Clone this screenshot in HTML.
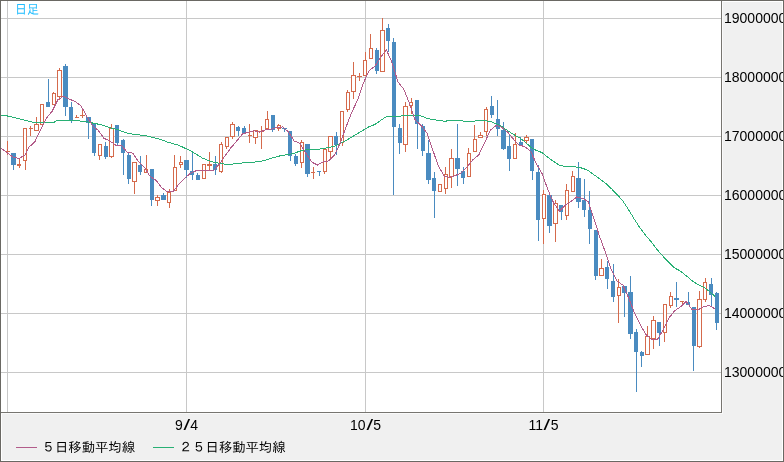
<!DOCTYPE html>
<html lang="ja"><head><meta charset="utf-8"><title>日足</title>
<style>
html,body{margin:0;padding:0;background:#f0f0f0;}
#w{position:relative;width:784px;height:462px;overflow:hidden;background:#f0f0f0;font-family:"Liberation Sans","IPAGothic","Noto Sans CJK JP",sans-serif;font-size:13.33px;color:#000;}
#bd{position:absolute;left:0;top:0;width:782px;height:460px;border:1px solid #6a6863;}
#bd2{position:absolute;left:1px;top:1px;width:780px;height:458px;border:1px solid #fff;}
#plot{position:absolute;left:1px;top:1px;width:720px;height:411px;background:#fff;border-right:1px solid #777570;border-bottom:1px solid #777570;}
#hl{position:absolute;left:1px;top:1px;width:721px;height:412px;border-right:1px solid #fafafa;border-bottom:1px solid #fafafa;}
svg{position:absolute;left:0;top:0;}
.yl{font-size:14px;position:absolute;left:724px;width:59px;overflow:hidden;white-space:nowrap;height:16px;line-height:16px;}
.xl{font-size:14px;position:absolute;top:417px;width:60px;text-align:center;height:16px;line-height:16px;}
.sl{display:inline-block;width:7.6px;text-align:center;transform:scaleX(1.7);}
.lg{position:absolute;top:440px;height:16px;line-height:16px;white-space:nowrap;font-family:"Liberation Sans","IPAGothic","Noto Sans CJK JP",sans-serif;}
.ll{position:absolute;top:447px;height:1px;width:21px;}
#ttl{position:absolute;left:15px;top:2px;height:16px;line-height:16px;color:#1fbcff;font-family:"Liberation Sans","IPAGothic","Noto Sans CJK JP",sans-serif;font-size:13.33px;white-space:nowrap;transform:scaleX(0.9);transform-origin:0 0;}
</style></head><body>
<div id="w">
<div id="bd2"></div>
<div id="hl"></div>
<div id="plot"></div>
<svg width="784" height="462" viewBox="0 0 784 462">
<defs><clipPath id="cp"><rect x="1" y="1" width="720" height="411"/></clipPath></defs>
<g clip-path="url(#cp)">
<rect x="1" y="18" width="720" height="1" fill="#c8c8c8"/>
<rect x="1" y="77" width="720" height="1" fill="#c8c8c8"/>
<rect x="1" y="136" width="720" height="1" fill="#c8c8c8"/>
<rect x="1" y="195" width="720" height="1" fill="#c8c8c8"/>
<rect x="1" y="254" width="720" height="1" fill="#c8c8c8"/>
<rect x="1" y="313" width="720" height="1" fill="#c8c8c8"/>
<rect x="1" y="372" width="720" height="1" fill="#c8c8c8"/>
<rect x="7" y="1" width="1" height="411" fill="#c8c8c8"/>
<rect x="186" y="1" width="1" height="411" fill="#c8c8c8"/>
<rect x="365" y="1" width="1" height="411" fill="#c8c8c8"/>
<rect x="543" y="1" width="1" height="411" fill="#c8c8c8"/>
<rect x="7" y="141" width="1" height="14" fill="#d56a4c"/>
<rect x="6" y="151" width="4" height="1" fill="#d56a4c"/>
<rect x="13" y="153" width="1" height="17" fill="#4a8bc0"/>
<rect x="11" y="153" width="5" height="12" fill="#4a8bc0"/>
<rect x="19" y="158" width="1" height="6" fill="#d56a4c"/>
<rect x="19" y="166" width="1" height="2" fill="#d56a4c"/>
<rect x="17.5" y="164.5" width="3" height="1" fill="#fff" stroke="#d56a4c" stroke-width="1"/>
<rect x="25" y="161" width="1" height="9" fill="#d56a4c"/>
<rect x="23.5" y="128.5" width="3" height="32" fill="#fff" stroke="#d56a4c" stroke-width="1"/>
<rect x="30" y="126" width="1" height="10" fill="#d56a4c"/>
<rect x="29" y="128" width="4" height="1" fill="#d56a4c"/>
<rect x="36" y="117" width="1" height="7" fill="#d56a4c"/>
<rect x="34.5" y="124.5" width="4" height="6" fill="#fff" stroke="#d56a4c" stroke-width="1"/>
<rect x="40.5" y="104.5" width="3" height="20" fill="#fff" stroke="#d56a4c" stroke-width="1"/>
<rect x="48" y="79" width="1" height="28" fill="#4a8bc0"/>
<rect x="46" y="102" width="4" height="5" fill="#4a8bc0"/>
<rect x="53" y="92" width="1" height="1" fill="#d56a4c"/>
<rect x="52.5" y="93.5" width="3" height="11" fill="#fff" stroke="#d56a4c" stroke-width="1"/>
<rect x="59" y="68" width="1" height="2" fill="#d56a4c"/>
<rect x="59" y="97" width="1" height="3" fill="#d56a4c"/>
<rect x="57.5" y="70.5" width="4" height="26" fill="#fff" stroke="#d56a4c" stroke-width="1"/>
<rect x="65" y="64" width="1" height="52" fill="#4a8bc0"/>
<rect x="63" y="66" width="5" height="41" fill="#4a8bc0"/>
<rect x="71" y="102" width="1" height="21" fill="#4a8bc0"/>
<rect x="69" y="107" width="4" height="13" fill="#4a8bc0"/>
<rect x="76" y="115" width="1" height="3" fill="#d56a4c"/>
<rect x="75" y="117" width="4" height="1" fill="#d56a4c"/>
<rect x="82" y="109" width="1" height="9" fill="#d56a4c"/>
<rect x="80" y="115" width="5" height="1" fill="#d56a4c"/>
<rect x="88" y="117" width="1" height="22" fill="#4a8bc0"/>
<rect x="86" y="117" width="5" height="6" fill="#4a8bc0"/>
<rect x="94" y="123" width="1" height="33" fill="#4a8bc0"/>
<rect x="92" y="123" width="4" height="30" fill="#4a8bc0"/>
<rect x="99" y="156" width="1" height="4" fill="#d56a4c"/>
<rect x="98.5" y="144.5" width="3" height="11" fill="#fff" stroke="#d56a4c" stroke-width="1"/>
<rect x="105" y="142" width="1" height="17" fill="#4a8bc0"/>
<rect x="104" y="146" width="4" height="11" fill="#4a8bc0"/>
<rect x="111" y="124" width="1" height="4" fill="#d56a4c"/>
<rect x="111" y="157" width="1" height="1" fill="#d56a4c"/>
<rect x="109.5" y="128.5" width="4" height="28" fill="#fff" stroke="#d56a4c" stroke-width="1"/>
<rect x="117" y="125" width="1" height="20" fill="#4a8bc0"/>
<rect x="115" y="125" width="4" height="18" fill="#4a8bc0"/>
<rect x="123" y="139" width="1" height="36" fill="#4a8bc0"/>
<rect x="121" y="140" width="4" height="13" fill="#4a8bc0"/>
<rect x="128" y="153" width="1" height="31" fill="#4a8bc0"/>
<rect x="127" y="155" width="4" height="24" fill="#4a8bc0"/>
<rect x="134" y="182" width="1" height="12" fill="#d56a4c"/>
<rect x="132.5" y="162.5" width="4" height="19" fill="#fff" stroke="#d56a4c" stroke-width="1"/>
<rect x="140" y="156" width="1" height="19" fill="#4a8bc0"/>
<rect x="138" y="165" width="4" height="7" fill="#4a8bc0"/>
<rect x="146" y="155" width="1" height="14" fill="#d56a4c"/>
<rect x="144.5" y="169.5" width="3" height="3" fill="#fff" stroke="#d56a4c" stroke-width="1"/>
<rect x="151" y="169" width="1" height="37" fill="#4a8bc0"/>
<rect x="150" y="169" width="4" height="31" fill="#4a8bc0"/>
<rect x="157" y="195" width="1" height="2" fill="#d56a4c"/>
<rect x="157" y="201" width="1" height="5" fill="#d56a4c"/>
<rect x="155.5" y="197.5" width="4" height="3" fill="#fff" stroke="#d56a4c" stroke-width="1"/>
<rect x="163" y="193" width="1" height="7" fill="#4a8bc0"/>
<rect x="161" y="195" width="5" height="5" fill="#4a8bc0"/>
<rect x="169" y="189" width="1" height="3" fill="#d56a4c"/>
<rect x="169" y="203" width="1" height="5" fill="#d56a4c"/>
<rect x="167.5" y="192.5" width="3" height="10" fill="#fff" stroke="#d56a4c" stroke-width="1"/>
<rect x="174" y="155" width="1" height="12" fill="#d56a4c"/>
<rect x="173.5" y="167.5" width="3" height="23" fill="#fff" stroke="#d56a4c" stroke-width="1"/>
<rect x="180" y="156" width="1" height="6" fill="#d56a4c"/>
<rect x="180" y="165" width="1" height="3" fill="#d56a4c"/>
<rect x="179.5" y="162.5" width="3" height="2" fill="#fff" stroke="#d56a4c" stroke-width="1"/>
<rect x="186" y="160" width="1" height="18" fill="#4a8bc0"/>
<rect x="184" y="160" width="5" height="10" fill="#4a8bc0"/>
<rect x="192" y="153" width="1" height="27" fill="#4a8bc0"/>
<rect x="190" y="171" width="4" height="4" fill="#4a8bc0"/>
<rect x="197" y="173" width="1" height="7" fill="#4a8bc0"/>
<rect x="196" y="175" width="4" height="5" fill="#4a8bc0"/>
<rect x="202.5" y="164.5" width="3" height="14" fill="#fff" stroke="#d56a4c" stroke-width="1"/>
<rect x="209" y="152" width="1" height="12" fill="#d56a4c"/>
<rect x="209" y="166" width="1" height="4" fill="#d56a4c"/>
<rect x="207.5" y="164.5" width="4" height="1" fill="#fff" stroke="#d56a4c" stroke-width="1"/>
<rect x="215" y="156" width="1" height="19" fill="#4a8bc0"/>
<rect x="213" y="164" width="4" height="6" fill="#4a8bc0"/>
<rect x="221" y="142" width="1" height="2" fill="#d56a4c"/>
<rect x="221" y="172" width="1" height="1" fill="#d56a4c"/>
<rect x="219.5" y="144.5" width="3" height="27" fill="#fff" stroke="#d56a4c" stroke-width="1"/>
<rect x="226" y="147" width="1" height="2" fill="#d56a4c"/>
<rect x="225.5" y="137.5" width="3" height="9" fill="#fff" stroke="#d56a4c" stroke-width="1"/>
<rect x="232" y="122" width="1" height="2" fill="#d56a4c"/>
<rect x="232" y="137" width="1" height="2" fill="#d56a4c"/>
<rect x="230.5" y="124.5" width="4" height="12" fill="#fff" stroke="#d56a4c" stroke-width="1"/>
<rect x="238" y="126" width="1" height="10" fill="#4a8bc0"/>
<rect x="236" y="127" width="4" height="4" fill="#4a8bc0"/>
<rect x="244" y="126" width="1" height="8" fill="#4a8bc0"/>
<rect x="242" y="128" width="4" height="6" fill="#4a8bc0"/>
<rect x="249" y="124" width="1" height="19" fill="#d56a4c"/>
<rect x="248" y="135" width="4" height="1" fill="#d56a4c"/>
<rect x="255" y="138" width="1" height="6" fill="#d56a4c"/>
<rect x="253.5" y="130.5" width="4" height="7" fill="#fff" stroke="#d56a4c" stroke-width="1"/>
<rect x="261" y="126" width="1" height="23" fill="#d56a4c"/>
<rect x="259" y="131" width="5" height="1" fill="#d56a4c"/>
<rect x="267" y="111" width="1" height="8" fill="#d56a4c"/>
<rect x="265.5" y="119.5" width="3" height="9" fill="#fff" stroke="#d56a4c" stroke-width="1"/>
<rect x="272" y="115" width="1" height="17" fill="#4a8bc0"/>
<rect x="271" y="115" width="4" height="15" fill="#4a8bc0"/>
<rect x="278" y="124" width="1" height="1" fill="#d56a4c"/>
<rect x="278" y="129" width="1" height="2" fill="#d56a4c"/>
<rect x="277.5" y="125.5" width="3" height="3" fill="#fff" stroke="#d56a4c" stroke-width="1"/>
<rect x="284" y="128" width="1" height="4" fill="#4a8bc0"/>
<rect x="282" y="128" width="5" height="1" fill="#4a8bc0"/>
<rect x="290" y="131" width="1" height="30" fill="#4a8bc0"/>
<rect x="288" y="131" width="4" height="25" fill="#4a8bc0"/>
<rect x="295" y="154" width="1" height="12" fill="#4a8bc0"/>
<rect x="294" y="156" width="4" height="8" fill="#4a8bc0"/>
<rect x="301" y="140" width="1" height="2" fill="#d56a4c"/>
<rect x="301" y="163" width="1" height="5" fill="#d56a4c"/>
<rect x="300.5" y="142.5" width="3" height="20" fill="#fff" stroke="#d56a4c" stroke-width="1"/>
<rect x="307" y="144" width="1" height="33" fill="#4a8bc0"/>
<rect x="305" y="144" width="5" height="30" fill="#4a8bc0"/>
<rect x="313" y="167" width="1" height="12" fill="#d56a4c"/>
<rect x="311" y="172" width="4" height="1" fill="#d56a4c"/>
<rect x="319" y="171" width="1" height="5" fill="#4a8bc0"/>
<rect x="317" y="171" width="4" height="1" fill="#4a8bc0"/>
<rect x="324" y="172" width="1" height="2" fill="#d56a4c"/>
<rect x="323.5" y="149.5" width="3" height="22" fill="#fff" stroke="#d56a4c" stroke-width="1"/>
<rect x="330" y="152" width="1" height="6" fill="#d56a4c"/>
<rect x="328.5" y="136.5" width="4" height="15" fill="#fff" stroke="#d56a4c" stroke-width="1"/>
<rect x="336" y="132" width="1" height="23" fill="#4a8bc0"/>
<rect x="334" y="136" width="4" height="9" fill="#4a8bc0"/>
<rect x="342" y="143" width="1" height="3" fill="#d56a4c"/>
<rect x="340.5" y="111.5" width="3" height="31" fill="#fff" stroke="#d56a4c" stroke-width="1"/>
<rect x="347" y="90" width="1" height="2" fill="#d56a4c"/>
<rect x="347" y="110" width="1" height="2" fill="#d56a4c"/>
<rect x="346.5" y="92.5" width="3" height="17" fill="#fff" stroke="#d56a4c" stroke-width="1"/>
<rect x="353" y="62" width="1" height="13" fill="#d56a4c"/>
<rect x="353" y="92" width="1" height="7" fill="#d56a4c"/>
<rect x="351.5" y="75.5" width="4" height="16" fill="#fff" stroke="#d56a4c" stroke-width="1"/>
<rect x="359" y="73" width="1" height="8" fill="#d56a4c"/>
<rect x="357" y="76" width="5" height="1" fill="#d56a4c"/>
<rect x="365" y="52" width="1" height="8" fill="#d56a4c"/>
<rect x="363.5" y="60.5" width="3" height="15" fill="#fff" stroke="#d56a4c" stroke-width="1"/>
<rect x="370" y="34" width="1" height="14" fill="#d56a4c"/>
<rect x="369.5" y="48.5" width="3" height="10" fill="#fff" stroke="#d56a4c" stroke-width="1"/>
<rect x="376" y="48" width="1" height="26" fill="#4a8bc0"/>
<rect x="375" y="50" width="4" height="21" fill="#4a8bc0"/>
<rect x="382" y="18" width="1" height="12" fill="#d56a4c"/>
<rect x="380.5" y="30.5" width="4" height="41" fill="#fff" stroke="#d56a4c" stroke-width="1"/>
<rect x="388" y="24" width="1" height="28" fill="#4a8bc0"/>
<rect x="386" y="28" width="4" height="13" fill="#4a8bc0"/>
<rect x="393" y="38" width="1" height="157" fill="#4a8bc0"/>
<rect x="392" y="42" width="4" height="85" fill="#4a8bc0"/>
<rect x="399" y="124" width="1" height="30" fill="#4a8bc0"/>
<rect x="398" y="128" width="4" height="15" fill="#4a8bc0"/>
<rect x="405" y="102" width="1" height="4" fill="#d56a4c"/>
<rect x="405" y="145" width="1" height="7" fill="#d56a4c"/>
<rect x="403.5" y="106.5" width="4" height="38" fill="#fff" stroke="#d56a4c" stroke-width="1"/>
<rect x="411" y="98" width="1" height="4" fill="#d56a4c"/>
<rect x="411" y="106" width="1" height="8" fill="#d56a4c"/>
<rect x="409.5" y="102.5" width="3" height="3" fill="#fff" stroke="#d56a4c" stroke-width="1"/>
<rect x="417" y="100" width="1" height="49" fill="#4a8bc0"/>
<rect x="415" y="100" width="4" height="24" fill="#4a8bc0"/>
<rect x="422" y="124" width="1" height="32" fill="#4a8bc0"/>
<rect x="421" y="126" width="4" height="25" fill="#4a8bc0"/>
<rect x="428" y="140" width="1" height="44" fill="#4a8bc0"/>
<rect x="426" y="153" width="5" height="27" fill="#4a8bc0"/>
<rect x="434" y="172" width="1" height="46" fill="#4a8bc0"/>
<rect x="432" y="178" width="4" height="13" fill="#4a8bc0"/>
<rect x="438.5" y="184.5" width="3" height="7" fill="#fff" stroke="#d56a4c" stroke-width="1"/>
<rect x="445" y="167" width="1" height="7" fill="#d56a4c"/>
<rect x="445" y="189" width="1" height="5" fill="#d56a4c"/>
<rect x="444.5" y="174.5" width="3" height="14" fill="#fff" stroke="#d56a4c" stroke-width="1"/>
<rect x="451" y="149" width="1" height="9" fill="#d56a4c"/>
<rect x="451" y="177" width="1" height="11" fill="#d56a4c"/>
<rect x="449.5" y="158.5" width="4" height="18" fill="#fff" stroke="#d56a4c" stroke-width="1"/>
<rect x="457" y="124" width="1" height="62" fill="#4a8bc0"/>
<rect x="455" y="158" width="5" height="11" fill="#4a8bc0"/>
<rect x="463" y="167" width="1" height="17" fill="#4a8bc0"/>
<rect x="461" y="171" width="4" height="7" fill="#4a8bc0"/>
<rect x="468" y="148" width="1" height="5" fill="#d56a4c"/>
<rect x="467.5" y="153.5" width="3" height="23" fill="#fff" stroke="#d56a4c" stroke-width="1"/>
<rect x="474" y="125" width="1" height="14" fill="#d56a4c"/>
<rect x="473.5" y="139.5" width="3" height="12" fill="#fff" stroke="#d56a4c" stroke-width="1"/>
<rect x="480" y="132" width="1" height="3" fill="#d56a4c"/>
<rect x="478.5" y="135.5" width="4" height="2" fill="#fff" stroke="#d56a4c" stroke-width="1"/>
<rect x="486" y="107" width="1" height="2" fill="#d56a4c"/>
<rect x="486" y="132" width="1" height="4" fill="#d56a4c"/>
<rect x="484.5" y="109.5" width="3" height="22" fill="#fff" stroke="#d56a4c" stroke-width="1"/>
<rect x="491" y="96" width="1" height="22" fill="#4a8bc0"/>
<rect x="490" y="106" width="4" height="9" fill="#4a8bc0"/>
<rect x="497" y="100" width="1" height="36" fill="#4a8bc0"/>
<rect x="496" y="119" width="4" height="10" fill="#4a8bc0"/>
<rect x="503" y="122" width="1" height="28" fill="#4a8bc0"/>
<rect x="501" y="130" width="5" height="19" fill="#4a8bc0"/>
<rect x="509" y="135" width="1" height="36" fill="#4a8bc0"/>
<rect x="507" y="146" width="4" height="13" fill="#4a8bc0"/>
<rect x="515" y="133" width="1" height="11" fill="#d56a4c"/>
<rect x="513.5" y="144.5" width="3" height="14" fill="#fff" stroke="#d56a4c" stroke-width="1"/>
<rect x="520" y="137" width="1" height="8" fill="#4a8bc0"/>
<rect x="519" y="142" width="4" height="3" fill="#4a8bc0"/>
<rect x="526" y="135" width="1" height="2" fill="#d56a4c"/>
<rect x="526" y="141" width="1" height="2" fill="#d56a4c"/>
<rect x="524.5" y="137.5" width="4" height="3" fill="#fff" stroke="#d56a4c" stroke-width="1"/>
<rect x="532" y="139" width="1" height="41" fill="#4a8bc0"/>
<rect x="530" y="139" width="4" height="32" fill="#4a8bc0"/>
<rect x="538" y="165" width="1" height="76" fill="#4a8bc0"/>
<rect x="536" y="172" width="4" height="48" fill="#4a8bc0"/>
<rect x="543" y="190" width="1" height="4" fill="#d56a4c"/>
<rect x="543" y="219" width="1" height="25" fill="#d56a4c"/>
<rect x="542.5" y="194.5" width="3" height="24" fill="#fff" stroke="#d56a4c" stroke-width="1"/>
<rect x="549" y="195" width="1" height="38" fill="#4a8bc0"/>
<rect x="547" y="195" width="5" height="31" fill="#4a8bc0"/>
<rect x="555" y="200" width="1" height="3" fill="#d56a4c"/>
<rect x="555" y="224" width="1" height="18" fill="#d56a4c"/>
<rect x="553.5" y="203.5" width="4" height="20" fill="#fff" stroke="#d56a4c" stroke-width="1"/>
<rect x="561" y="205" width="1" height="15" fill="#4a8bc0"/>
<rect x="559" y="205" width="4" height="7" fill="#4a8bc0"/>
<rect x="566" y="184" width="1" height="6" fill="#d56a4c"/>
<rect x="566" y="216" width="1" height="4" fill="#d56a4c"/>
<rect x="565.5" y="190.5" width="3" height="25" fill="#fff" stroke="#d56a4c" stroke-width="1"/>
<rect x="572" y="171" width="1" height="5" fill="#d56a4c"/>
<rect x="571.5" y="176.5" width="3" height="15" fill="#fff" stroke="#d56a4c" stroke-width="1"/>
<rect x="578" y="162" width="1" height="46" fill="#4a8bc0"/>
<rect x="576" y="178" width="5" height="24" fill="#4a8bc0"/>
<rect x="584" y="179" width="1" height="38" fill="#4a8bc0"/>
<rect x="582" y="200" width="4" height="10" fill="#4a8bc0"/>
<rect x="589" y="191" width="1" height="53" fill="#4a8bc0"/>
<rect x="588" y="210" width="4" height="19" fill="#4a8bc0"/>
<rect x="595" y="230" width="1" height="50" fill="#4a8bc0"/>
<rect x="594" y="230" width="4" height="46" fill="#4a8bc0"/>
<rect x="601" y="259" width="1" height="9" fill="#d56a4c"/>
<rect x="599.5" y="268.5" width="4" height="7" fill="#fff" stroke="#d56a4c" stroke-width="1"/>
<rect x="607" y="261" width="1" height="28" fill="#4a8bc0"/>
<rect x="605" y="267" width="4" height="12" fill="#4a8bc0"/>
<rect x="613" y="264" width="1" height="38" fill="#4a8bc0"/>
<rect x="611" y="281" width="4" height="16" fill="#4a8bc0"/>
<rect x="618" y="279" width="1" height="8" fill="#d56a4c"/>
<rect x="618" y="296" width="1" height="27" fill="#d56a4c"/>
<rect x="617.5" y="287.5" width="3" height="8" fill="#fff" stroke="#d56a4c" stroke-width="1"/>
<rect x="624" y="286" width="1" height="31" fill="#4a8bc0"/>
<rect x="622" y="286" width="5" height="7" fill="#4a8bc0"/>
<rect x="630" y="276" width="1" height="63" fill="#4a8bc0"/>
<rect x="628" y="292" width="5" height="42" fill="#4a8bc0"/>
<rect x="636" y="329" width="1" height="63" fill="#4a8bc0"/>
<rect x="634" y="332" width="4" height="20" fill="#4a8bc0"/>
<rect x="641" y="351" width="1" height="16" fill="#4a8bc0"/>
<rect x="640" y="352" width="4" height="4" fill="#4a8bc0"/>
<rect x="647" y="326" width="1" height="10" fill="#d56a4c"/>
<rect x="645.5" y="336.5" width="4" height="18" fill="#fff" stroke="#d56a4c" stroke-width="1"/>
<rect x="653" y="316" width="1" height="4" fill="#d56a4c"/>
<rect x="653" y="339" width="1" height="10" fill="#d56a4c"/>
<rect x="651.5" y="320.5" width="4" height="18" fill="#fff" stroke="#d56a4c" stroke-width="1"/>
<rect x="659" y="322" width="1" height="24" fill="#4a8bc0"/>
<rect x="657" y="322" width="4" height="11" fill="#4a8bc0"/>
<rect x="664" y="333" width="1" height="9" fill="#d56a4c"/>
<rect x="663.5" y="304.5" width="3" height="28" fill="#fff" stroke="#d56a4c" stroke-width="1"/>
<rect x="670" y="292" width="1" height="4" fill="#d56a4c"/>
<rect x="670" y="306" width="1" height="2" fill="#d56a4c"/>
<rect x="669.5" y="296.5" width="3" height="9" fill="#fff" stroke="#d56a4c" stroke-width="1"/>
<rect x="676" y="282" width="1" height="25" fill="#4a8bc0"/>
<rect x="674" y="298" width="5" height="2" fill="#4a8bc0"/>
<rect x="682" y="301" width="1" height="3" fill="#d56a4c"/>
<rect x="680" y="301" width="4" height="1" fill="#d56a4c"/>
<rect x="688" y="292" width="1" height="13" fill="#4a8bc0"/>
<rect x="686" y="302" width="4" height="3" fill="#4a8bc0"/>
<rect x="693" y="307" width="1" height="64" fill="#4a8bc0"/>
<rect x="692" y="307" width="4" height="39" fill="#4a8bc0"/>
<rect x="699" y="291" width="1" height="8" fill="#d56a4c"/>
<rect x="699" y="347" width="1" height="1" fill="#d56a4c"/>
<rect x="697.5" y="299.5" width="4" height="47" fill="#fff" stroke="#d56a4c" stroke-width="1"/>
<rect x="705" y="278" width="1" height="4" fill="#d56a4c"/>
<rect x="705" y="300" width="1" height="2" fill="#d56a4c"/>
<rect x="703.5" y="282.5" width="3" height="17" fill="#fff" stroke="#d56a4c" stroke-width="1"/>
<rect x="711" y="278" width="1" height="28" fill="#4a8bc0"/>
<rect x="709" y="284" width="4" height="11" fill="#4a8bc0"/>
<rect x="716" y="292" width="1" height="38" fill="#4a8bc0"/>
<rect x="715" y="293" width="4" height="30" fill="#4a8bc0"/>
<polyline points="0,115 7.5,116 20,119 34,122.5 54,122.5 57,120 72,120 88,122 90,122.5 100,124.5 111,128 117,129.4 128,133.5 140,135 144.36,135.24 150.12,136.9 155.89,138.24 161.66,139.74 167.42,142.06 173.19,143.7 178.95,145.38 184.72,148.07 190.48,150.73 196.24,154.13 202.01,157.84 207.77,160.3 213.54,162.23 219.3,163.24 225.07,164.16 230.83,164.25 236.6,163.47 242.36,163.01 248.13,162.22 253.89,162.14 259.66,161.48 265.43,160.09 271.19,158.23 276.95,156.64 282.72,155.2 288.48,154.58 294.25,153.17 300.01,151.12 305.78,149.93 311.54,149.21 317.31,149.25 323.07,148.68 328.84,147.45 334.6,146.1 340.37,143.23 346.13,140.36 351.9,137.04 357.66,133.43 363.43,130.01 369.19,126.55 374.96,124.53 380.72,120.4 386.49,116.53 392.25,116.25 398.02,116.48 403.78,115.68 409.55,115.17 415.31,115.01 421.08,116.07 426.84,118.16 432.61,119.59 438.38,120.24 444.14,121.25 449.9,120.65 455.67,120.63 461.44,120.96 467.2,121.13 472.96,121.21 478.73,120.63 484.49,120.57 490.26,121.44 496.02,123.65 501.79,126.61 507.55,130.56 513.32,134.45 519.08,137.38 524.85,141.76 530.62,147.04 536.38,150.52 542.14,152.58 547.91,157.34 553.67,161.58 559.44,165.13 565.2,166.51 570.97,166.49 576.74,167.04 582.5,168.23 588.26,170.53 594.03,174.8 599.79,178.93 605.56,183.2 611.32,188.59 617.09,194.45 622.86,201 628.62,209.77 634.38,219.26 640.15,228.19 645.91,235.66 651.68,242.42 657.44,249.97 663.21,256.48 668.97,262.65 674.74,268.02 680.5,271.15 686.27,275.75 692.03,280.66 697.8,284.43 703.56,287.21 709.33,291.26 715.09,296.57" fill="none" stroke="#28b074" stroke-width="1" shape-rendering="crispEdges"/>
<polyline points="0,147.5 13,157 19,158.5 25,155 29.06,147.12 34.83,141.8 40.59,129.76 46.35,118.26 52.12,111.34 57.88,99.76 63.65,96.18 69.41,99.25 75.18,101.35 80.94,105.75 86.71,116.23 92.47,125.61 98.24,130.46 104,138.36 109.77,140.96 115.53,145.01 121.3,145.01 127.06,152.06 132.83,153.24 138.59,161.88 144.36,167.11 150.12,176.51 155.89,180.18 161.66,187.78 167.42,191.86 173.19,191.53 178.95,183.93 184.72,178.33 190.48,173.17 196.24,170.69 202.01,170.06 207.77,170.38 213.54,170.38 219.3,164.28 225.07,155.81 230.83,147.87 236.6,141.19 242.36,134.02 248.13,132.16 253.89,130.83 259.66,132.11 265.43,129.87 271.19,129.17 276.95,127.29 282.72,126.97 288.48,132.01 294.25,141.01 300.01,143.44 305.78,153.24 311.54,161.84 317.31,165.09 323.07,162.01 328.84,160.78 334.6,154.88 340.37,142.73 346.13,126.7 351.9,111.95 357.66,99.98 363.43,83.05 369.19,70.42 374.96,66.12 380.72,57.12 386.49,49.94 392.25,63.19 398.02,82.07 403.78,89.2 409.55,103.61 415.31,120.39 421.08,125.34 426.84,132.76 432.61,149.63 438.38,165.97 444.14,175.97 449.9,177.4 455.67,175.36 461.44,172.9 467.2,166.72 472.96,159.69 478.73,155.01 484.49,142.95 490.26,130.37 496.02,125.45 501.79,127.3 507.55,132 513.32,139.02 519.08,144.94 524.85,146.74 530.62,151.29 536.38,163.67 542.14,173.71 547.91,189.83 553.67,202.95 559.44,211.18 565.2,205.18 570.97,201.58 576.74,196.91 582.5,198.37 588.26,201.59 594.03,218.79 599.79,237.13 605.56,252.56 611.32,269.78 617.09,281.53 622.86,284.87 628.62,297.95 634.38,312.55 640.15,324.53 645.91,334.33 651.68,339.76 657.44,339.56 663.21,329.96 668.97,317.93 674.74,310.63 680.5,306.78 686.27,301.33 692.03,309.57 697.8,310.12 703.56,306.59 709.33,305.47 715.09,308.92" fill="none" stroke="#b25c8a" stroke-width="1" shape-rendering="crispEdges"/>
</g>
</svg>
<div id="ttl">日足</div>
<div class="yl" style="top:10.3px">19000000</div><div class="yl" style="top:69.3px">18000000</div><div class="yl" style="top:128.3px">17000000</div><div class="yl" style="top:187.3px">16000000</div><div class="yl" style="top:246.3px">15000000</div><div class="yl" style="top:305.3px">14000000</div><div class="yl" style="top:364.3px">13000000</div>
<div class="xl" style="left:156.5px">9<span class="sl">/</span>4</div><div class="xl" style="left:335.5px">10<span class="sl">/</span>5</div><div class="xl" style="left:513.5px">11<span class="sl">/</span>5</div>
<div class="ll" style="left:16px;background:#b25c8a"></div>
<div class="lg" style="left:41.7px">５日移動平均線</div>
<div class="ll" style="left:153px;background:#28b074"></div>
<div class="lg" style="left:178.9px">２５日移動平均線</div>
<div id="bd"></div>
</div>
</body></html>
